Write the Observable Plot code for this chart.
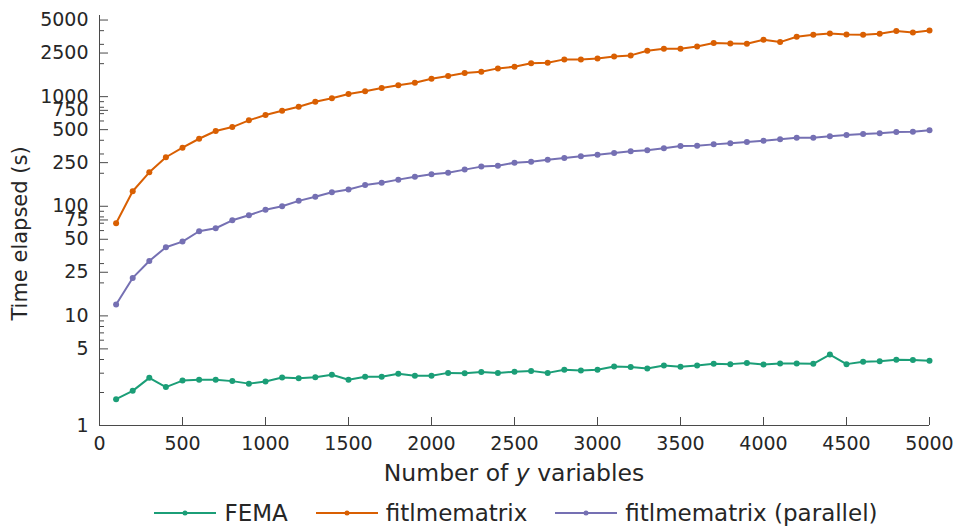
<!DOCTYPE html>
<html>
<head>
<meta charset="utf-8">
<script src="https://cdn.jsdelivr.net/npm/d3@7"></script>
<script src="https://cdn.jsdelivr.net/npm/@observablehq/plot@0.6"></script>
<style>
  html, body { margin: 0; padding: 0; background: #fff; }
  body { width: 954px; font-family: "DejaVu Sans", sans-serif; color: #262626; }
  #legend { display: flex; justify-content: center; align-items: center; font-size: 23px; height: 46px; margin-left: 78px; }
  .item { display: flex; align-items: center; margin: 0 14px; }
  .item svg { margin-right: 8px; }
</style>
</head>
<body>
<div id="chart"></div>
<div id="legend"></div>
<script>
const nVars = [100,200,300,400,500,600,700,800,900,1000,
  1100,1200,1300,1400,1500,1600,1700,1800,1900,2000,
  2100,2200,2300,2400,2500,2600,2700,2800,2900,3000,
  3100,3200,3300,3400,3500,3600,3700,3800,3900,4000,
  4100,4200,4300,4400,4500,4600,4700,4800,4900,5000];

const fema = [1.74,2.07,2.72,2.24,2.57,2.61,2.61,2.54,2.41,2.52,
  2.74,2.70,2.76,2.90,2.61,2.78,2.78,2.96,2.84,2.84,
  3.02,3.00,3.07,3.02,3.09,3.15,3.02,3.22,3.17,3.22,
  3.45,3.41,3.31,3.52,3.43,3.52,3.65,3.63,3.71,3.60,
  3.67,3.67,3.65,4.44,3.63,3.81,3.86,3.97,3.95,3.89];

const fitlmematrix = [70,137,204,280,342,413,486,528,608,680,
  744,809,899,966,1056,1118,1198,1268,1340,1456,
  1541,1641,1687,1811,1875,2013,2037,2188,2188,2234,
  2330,2379,2620,2734,2734,2874,3080,3060,3040,3300,
  3145,3515,3666,3777,3698,3666,3745,3963,3855,4020];

const fitlmematrixParallel = [12.7,22.2,31.7,42.3,47.6,59.2,63,74.5,82.8,93.1,
  100,112,122,134,142,156,164,175,186,196,
  202,216,230,234,250,255,266,276,286,295,
  306,317,324,338,355,357,367,375,386,396,
  408,422,422,435,447,456,463,476,479,493];

const seriesNames = ["FEMA", "fitlmematrix", "fitlmematrix (parallel)"];
const seriesColors = ["#1b9e77", "#d95f02", "#7570b3"];
const seriesValues = [fema, fitlmematrix, fitlmematrixParallel];

const yTickValues = [1,5,10,25,50,75,100,250,500,750,1000,2500,5000];
const yMinorTickValues = [2,3,4,6,7,8,9,20,30,40,60,70,80,90,200,300,400,600,700,800,900,2000,3000,4000];
const xTickValues = [0,500,1000,1500,2000,2500,3000,3500,4000,4500,5000];

const xLabel = ["Number of ", "y", " variables"];
const yLabel = "Time elapsed (s)";

const rows = seriesNames.flatMap((name, i) =>
  nVars.map((n, j) => ({series: name, n, t: seriesValues[i][j]})));

const W = 954, H = 490, mt = 15, mb = 65, ml = 99, mr = 25;
const frameW = W - ml - mr, frameH = H - mt - mb;
const axisColor = "#4a4a4a";
const textColor = "#262626";
const font = "DejaVu Sans, sans-serif";

const chart = Plot.plot({
  width: W, height: H,
  marginTop: mt, marginBottom: mb, marginLeft: ml, marginRight: mr,
  style: {fontFamily: font, fontSize: "19px", color: textColor, background: "#fff"},
  x: {domain: [0, 5000]},
  y: {type: "log", domain: [1, 5500]},
  color: {domain: seriesNames, range: seriesColors},
  marks: [
    Plot.axisX(xTickValues, {tickSize: 0, tickPadding: 11, tickFormat: d => String(d), label: null, fontSize: 19, fill: textColor}),
    Plot.axisY(yTickValues, {tickSize: 0, text: null, label: null}),
    Plot.text(yTickValues, {y: d => d, text: d => String(d), frameAnchor: "left", textAnchor: "end", dx: -11, fontSize: 19, fill: textColor}),
    Plot.tickY(yTickValues, {y: d => d, insetRight: frameW - 9, stroke: axisColor}),
    Plot.tickY(yMinorTickValues, {y: d => d, insetRight: frameW - 5, stroke: axisColor}),
    Plot.tickX(xTickValues, {x: d => d, insetTop: frameH - 8, stroke: axisColor}),
    Plot.ruleX([0], {stroke: axisColor}),
    Plot.ruleY([1], {stroke: axisColor}),
    Plot.line(rows, {x: "n", y: "t", z: "series", stroke: "series", strokeWidth: 2}),
    Plot.dot(rows, {x: "n", y: "t", fill: "series", r: 3}),
    Plot.text([yLabel], {frameAnchor: "left", textAnchor: "middle", rotate: -90, dx: -79, dy: 13, fontSize: 21, fill: textColor})
  ]
});

document.getElementById("chart").appendChild(chart);

// x-axis label with italic y
const svg = d3.select(chart);
const xl = svg.append("text")
  .attr("x", ml + frameW / 2)
  .attr("y", 481)
  .attr("text-anchor", "middle")
  .attr("font-size", 23.5)
  .attr("fill", textColor)
  .attr("font-family", font);
xLabel.forEach((s, i) => {
  xl.append("tspan").attr("font-style", i === 1 ? "italic" : null).text(s);
});

// legend
const legend = d3.select("#legend");
seriesNames.forEach((name, i) => {
  const it = legend.append("div").attr("class", "item");
  const s = it.append("svg").attr("width", 62).attr("height", 14);
  s.append("line").attr("x1", 0).attr("x2", 62).attr("y1", 7).attr("y2", 7)
    .attr("stroke", seriesColors[i]).attr("stroke-width", 2);
  s.append("circle").attr("cx", 31).attr("cy", 7).attr("r", 2.5).attr("fill", seriesColors[i]);
  it.append("span").text(name);
});
</script>
</body>
</html>
